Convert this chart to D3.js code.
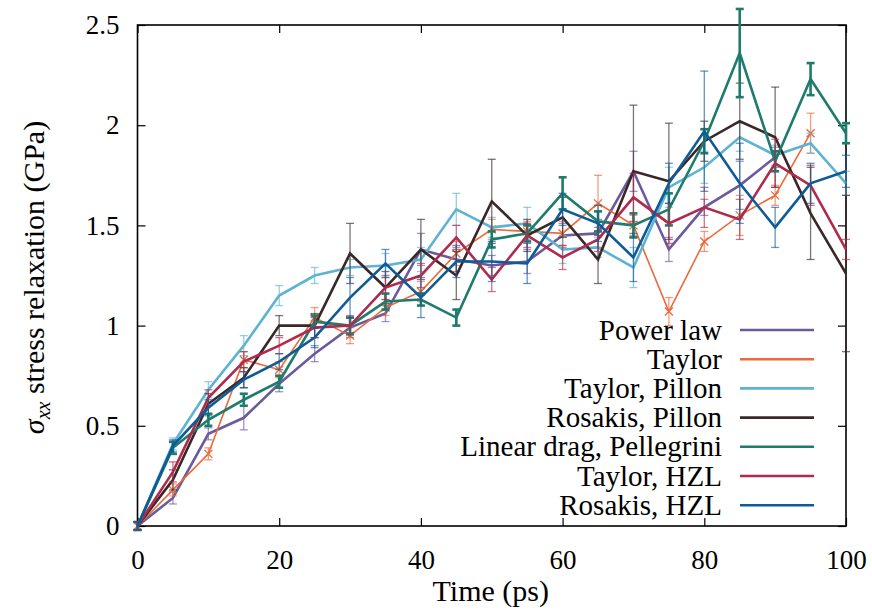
<!DOCTYPE html>
<html>
<head>
<meta charset="utf-8">
<script src="https://cdn.jsdelivr.net/npm/d3@7"></script>
<style>
  body { margin: 0; background: #fff; }
</style>
</head>
<body>
<div id="chart"></div>
<script>
// time steps (ps)
const times = [0, 5, 10, 15, 20, 25, 30, 35, 40, 45, 50, 55, 60, 65, 70, 75, 80, 85, 90, 95, 100];

// stress relaxation (GPa) and error per model
const powerLaw     = [0, 0.14, 0.46, 0.54, 0.71, 0.86, 0.99, 1.06, 1.38, 1.33, 1.30, 1.32, 1.45, 1.46, 1.77, 1.38, 1.59, 1.70, 1.84];
const powerLawErr  = [0.02, 0.03, 0.03, 0.06, 0.04, 0.04, 0.05, 0.04, 0.08, 0.06, 0.05, 0.06, 0.06, 0.07, 0.1, 0.06, 0.04, 0.12, 0.05];
const taylor       = [0, 0.18, 0.36, 0.83, 0.78, 1.04, 0.95, 1.09, 1.17, 1.36, 1.48, 1.47, 1.46, 1.61, 1.50, 1.07, 1.42, 1.55, 1.65, 1.96];
const taylorErr    = [0.02, 0.03, 0.03, 0.04, 0.04, 0.05, 0.04, 0.04, 0.05, 0.06, 0.05, 0.05, 0.06, 0.14, 0.05, 0.07, 0.05, 0.1, 0.05, 0.1];
const taylorPillon    = [0, 0.41, 0.68, 0.90, 1.15, 1.25, 1.29, 1.30, 1.33, 1.58, 1.49, 1.51, 1.38, 1.39, 1.29, 1.69, 1.79, 1.94, 1.85, 1.91, 1.71];
const taylorPillonErr = [0.02, 0.03, 0.04, 0.05, 0.05, 0.04, 0.04, 0.06, 0.06, 0.08, 0.05, 0.08, 0.07, 0.05, 0.1, 0.1, 0.08, 0.07, 0.05, 0.05, 0.06];
const rosakisPillon    = [0, 0.23, 0.61, 0.74, 1.00, 1.00, 1.36, 1.19, 1.38, 1.25, 1.62, 1.45, 1.54, 1.33, 1.77, 1.72, 1.92, 2.02, 1.94, 1.56, 1.26];
const rosakisPillonErr = [0.02, 0.05, 0.05, 0.05, 0.05, 0.06, 0.15, 0.08, 0.15, 0.12, 0.21, 0.08, 0.1, 0.12, 0.33, 0.29, 0.1, 0.19, 0.25, 0.23, 0.39];
const linearDrag    = [0, 0.39, 0.53, 0.63, 0.72, 1.02, 1.00, 1.12, 1.13, 1.04, 1.43, 1.46, 1.66, 1.52, 1.50, 1.58, 1.92, 2.36, 1.82, 2.23, 1.96];
const linearDragErr = [0.02, 0.03, 0.03, 0.03, 0.03, 0.03, 0.04, 0.04, 0.03, 0.04, 0.04, 0.04, 0.08, 0.05, 0.06, 0.08, 0.06, 0.22, 0.05, 0.08, 0.05];
const taylorHZL    = [0, 0.27, 0.64, 0.82, 0.90, 0.99, 1.00, 1.19, 1.25, 1.44, 1.23, 1.45, 1.34, 1.43, 1.64, 1.51, 1.59, 1.53, 1.81, 1.70, 1.38];
const taylorHZLErr = [0.02, 0.05, 0.04, 0.05, 0.04, 0.05, 0.05, 0.06, 0.06, 0.06, 0.06, 0.06, 0.06, 0.06, 0.12, 0.1, 0.1, 0.1, 0.12, 0.1, 0.05];
const rosakisHZL    = [0, 0.40, 0.59, 0.73, 0.82, 0.94, 1.14, 1.31, 1.14, 1.32, 1.32, 1.31, 1.58, 1.51, 1.34, 1.71, 1.97, 1.71, 1.49, 1.71, 1.77];
const rosakisHZLErr = [0.02, 0.03, 0.04, 0.04, 0.04, 0.05, 0.1, 0.07, 0.1, 0.08, 0.1, 0.1, 0.08, 0.09, 0.12, 0.1, 0.3, 0.2, 0.1, 0.1, 0.08];

const labels = ["Power law", "Taylor", "Taylor, Pillon", "Rosakis, Pillon",
                "Linear drag, Pellegrini", "Taylor, HZL", "Rosakis, HZL"];
const colors = ["#6b5b9d", "#ea6a3a", "#5db3d1", "#3a2828", "#1f7b6c", "#b02a4c", "#0f5b98"];

const xTicks = [0, 20, 40, 60, 80, 100];
const yTicks = [0, 0.5, 1, 1.5, 2, 2.5];

const series = [
    {name: labels[0], vals: powerLaw, err: powerLawErr, color: colors[0]},
    {name: labels[1], vals: taylor, err: taylorErr, color: colors[1], thin: true},
    {name: labels[2], vals: taylorPillon, err: taylorPillonErr, color: colors[2]},
    {name: labels[3], vals: rosakisPillon, err: rosakisPillonErr, color: colors[3]},
    {name: labels[4], vals: linearDrag, err: linearDragErr, color: colors[4], bold: true},
    {name: labels[5], vals: taylorHZL, err: taylorHZLErr, color: colors[5]},
    {name: labels[6], vals: rosakisHZL, err: rosakisHZLErr, color: colors[6]}
];

const fontName = "Liberation Serif";

const margin = {top: 25, right: 26, bottom: 84, left: 137.5};
const width = 872 - margin.left - margin.right;
const height = 610 - margin.top - margin.bottom;

const svg = d3.select("#chart")
    .append("svg")
    .attr("width", 872)
    .attr("height", 610)
    .attr("font-family", fontName);

const g = svg.append("g")
    .attr("transform", "translate(" + margin.left + "," + margin.top + ")");

const x = d3.scaleLinear().domain([0, 100]).range([0, width]);
const y = d3.scaleLinear().domain([0, 2.5]).range([height, 0]);

// axes with inward ticks, mirrored on top and right
const tickLen = 8;
g.append("g")
    .attr("class", "axis")
    .attr("transform", "translate(0," + height + ")")
    .call(d3.axisBottom(x).tickValues(xTicks).tickSize(-tickLen).tickPadding(tickLen + 16).tickFormat(d3.format("d")));
g.append("g")
    .attr("class", "axis")
    .call(d3.axisTop(x).tickValues(xTicks).tickSize(-tickLen).tickFormat(""));
g.append("g")
    .attr("class", "axis")
    .call(d3.axisLeft(y).tickValues(yTicks).tickSize(-tickLen).tickPadding(tickLen + 10).tickFormat(d => d));
g.append("g")
    .attr("class", "axis")
    .attr("transform", "translate(" + width + ",0)")
    .call(d3.axisRight(y).tickValues(yTicks).tickSize(-tickLen).tickFormat(""));

g.selectAll(".axis")
    .attr("font-family", fontName)
    .attr("font-size", 27);
g.selectAll(".domain").remove();
g.selectAll(".tick line").attr("stroke", "#000").attr("stroke-width", 1.2);
g.selectAll(".tick text").attr("font-family", fontName);

// frame
g.append("rect")
    .attr("width", width)
    .attr("height", height)
    .attr("fill", "none")
    .attr("stroke", "#000")
    .attr("stroke-width", 1.6);

const plot = g.append("g");
const line = d3.line().x((d, i) => x(times[i])).y(d => y(d));
const cap = 4;

series.forEach(function(s) {
    const sg = plot.append("g");
    const ew = s.bold ? 2.6 : 1.3;
    const eo = s.bold ? 1 : 0.65;
    // error bars
    s.vals.forEach(function(v, i) {
        const cx = x(times[i]);
        const y0 = y(v - s.err[i]);
        const y1 = y(v + s.err[i]);
        sg.append("line").attr("x1", cx).attr("x2", cx).attr("y1", y0).attr("y2", y1)
            .attr("stroke", s.color).attr("stroke-width", ew).attr("stroke-opacity", eo);
        [y0, y1].forEach(function(yy) {
            sg.append("line").attr("x1", cx - cap).attr("x2", cx + cap).attr("y1", yy).attr("y2", yy)
                .attr("stroke", s.color).attr("stroke-width", ew).attr("stroke-opacity", eo);
        });
    });
    sg.append("path")
        .datum(s.vals)
        .attr("d", line)
        .attr("fill", "none")
        .attr("stroke", s.color)
        .attr("stroke-width", s.thin ? 1.6 : 2.6)
        .attr("stroke-linejoin", "miter");
    if (s.thin) {
        // cross markers
        s.vals.forEach(function(v, i) {
            const cx = x(times[i]), cy = y(v), r = 4;
            sg.append("path")
                .attr("d", "M" + (cx - r) + "," + (cy - r) + "L" + (cx + r) + "," + (cy + r) +
                           "M" + (cx - r) + "," + (cy + r) + "L" + (cx + r) + "," + (cy - r))
                .attr("stroke", s.color).attr("stroke-width", 1.3);
        });
    }
});

// legend
const legend = g.append("g")
    .attr("transform", "translate(" + (722 - margin.left) + "," + (330 - margin.top) + ")");
series.forEach(function(s, i) {
    const row = legend.append("g").attr("transform", "translate(0," + (i * 29.2) + ")");
    row.append("text")
        .attr("text-anchor", "end")
        .attr("dy", "0.33em")
        .attr("font-family", fontName)
        .attr("font-size", 29)
        .text(s.name);
    row.append("line")
        .attr("x1", 18).attr("x2", 92)
        .attr("stroke", s.color)
        .attr("stroke-width", 2.6);
});

// axis titles
svg.append("text")
    .attr("x", margin.left + x(50) - 1)
    .attr("y", 601)
    .attr("text-anchor", "middle")
    .attr("font-family", fontName)
    .attr("font-size", 30)
    .text("Time (ps)");

const ylab = svg.append("text")
    .attr("transform", "translate(44," + (margin.top + height / 2 + 2) + ") rotate(-90)")
    .attr("text-anchor", "middle")
    .attr("font-family", fontName)
    .attr("font-size", 30);
ylab.append("tspan").attr("font-style", "italic").text("σ");
ylab.append("tspan").attr("dy", 6).attr("font-size", 20).attr("font-style", "italic").text("xx");
ylab.append("tspan").attr("dy", -6).text(" stress relaxation (GPa)");
</script>
</body>
</html>
